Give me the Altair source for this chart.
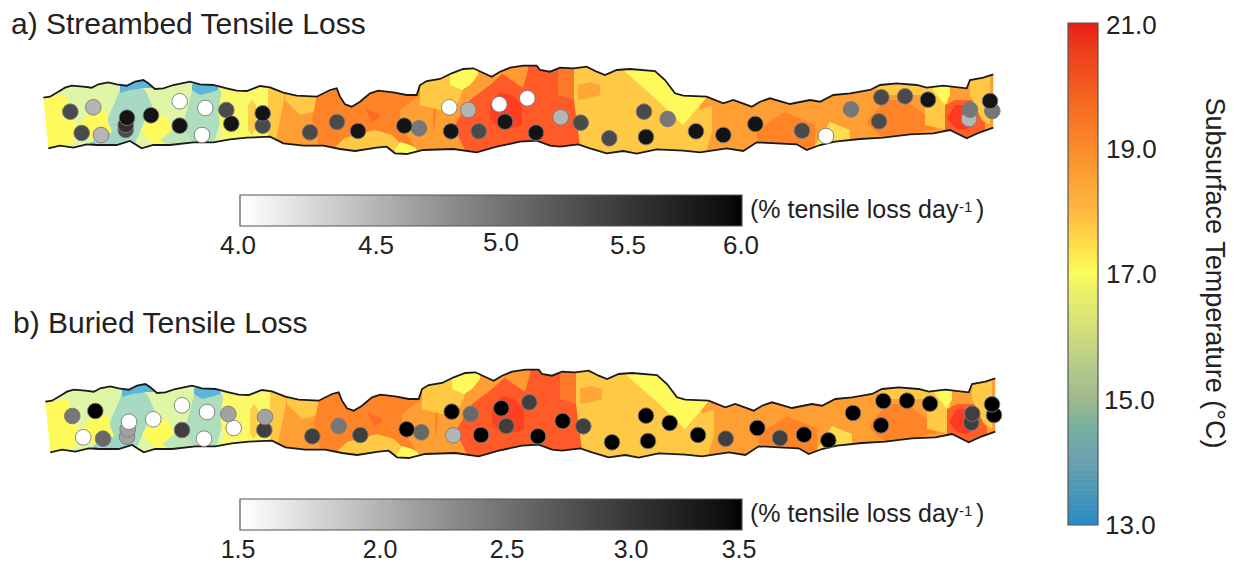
import altair as alt
import pandas as pd

FONT = "Liberation Sans"
INK = "#222222"

# river outline (panel a; panel b is the same reach drawn lower and slightly right)
top_x = [43.3,50,58.3,65,71.7,83.3,91.7,98.3,108.3,116.7,126.7,135,143.3,148.3,155,163.3,173.3,190,200,213.3,226.7,236.7,246.7,260,270,283.3,296.7,316.7,330,336.7,340,345,351.7,360,370,378.3,393.3,406.7,416.7,420,426.7,440,451.7,463.3,473.3,491.7,500,510,523.3,536.7,540,550,560,573.3,586.7,596.7,605,616.7,630,655,665,675,683.3,706.7,723.3,733.3,751.7,760,770,790,810,820,833.3,850,870,880,896.7,916.7,926.7,943.3,966.7,970,983.3,993.3]
top_y = [97.7,96.7,91.7,87.7,85.7,86.7,87.7,84.3,82.3,84.3,85.7,81.7,80,83.3,89,88.3,85,81.7,84.3,85,88.3,90.7,91,86,87.3,92.7,95.7,96.7,90,88.3,96.7,104.3,106.7,101.7,93.3,90.7,92.3,95,95,85,81,79,73.3,69,68.3,76.7,71.7,67.7,65.7,65.7,70,71.7,67.7,68.3,66.7,71.7,75,70,69,71,80,93.3,95.7,96.7,103.3,100,106.7,101.7,98.3,104,100,101.7,95,93.3,90,85,83.3,85,87.7,85.7,88.3,80,77.7,74.3]
bot_x = [48.3,60,73.3,86.7,96.7,116.7,130,141.7,153.3,170,193.3,213.3,230,246.7,270,283.3,303.3,323.3,340,355,376.7,386.7,395,406.7,423.3,453.3,476.7,496.7,520,536.7,550,560,578.3,590,606.7,623.3,636.7,656.7,683.3,700,726.7,743.3,756.7,776.7,796.7,806.7,820,835,860,883.3,910,933.3,950,966.7,980,993.3]
bot_y = [148.3,145.7,147.7,144.3,145,145,141,148.3,145,145,142.3,142.3,139.3,137.7,136.7,143.3,145.7,145.7,149,151,147.7,146.7,153.3,154,150,149,152.3,146.7,141.7,140.7,145.7,146.7,144.3,148.3,153.3,151,153.7,149.3,150.7,152.3,148.3,151,142.3,143.3,144.3,150,145,141.7,139,137.7,134.3,133.3,130,138.3,132.3,127.7]

# temperature patches: (temperature, [(x, upper y, lower y), ...]) painted in order
zones = [
 (18.5,[(40,55,170),(1000,55,170)]),
 (16.3,[(40,55,170),(228,55,170)]),
 (17.0,[(43,98,150),(65,95,150),(76,118,138)]),
 (17.0,[(80,125,125),(97,103,148),(112,120,146),(118,128,135)]),
 (15.6,[(108,118,122),(120,90,150),(133,85,148),(145,90,120),(152,105,112)]),
 (15.5,[(84,147,147),(100,136,150),(125,128,150)]),
 (14.5,[(86,146,150),(94,142,150),(99,148,150)]),
 (14.5,[(120,82,93),(130,70,90),(145,70,88),(152,85,88)]),
 (17.0,[(140,130,130),(150,118,142),(165,115,145),(172,128,140)]),
 (15.9,[(160,140,140),(175,128,150),(190,120,150)]),
 (15.7,[(183,125,125),(195,80,150),(215,80,140),(222,95,115)]),
 (14.5,[(192,85,90),(200,76,95),(212,76,92),(218,87,90)]),
 (16.9,[(218,112,112),(228,55,170),(268,55,170),(285,55,55)]),
 (16.9,[(218,140,140),(232,120,170),(270,120,170)]),
 (17.9,[(248,105,130),(252,100,135),(256,105,128)]),
 (18.0,[(268,88,145),(275,88,145),(284,92,100)]),
 (18.0,[(285,90,100),(300,90,115),(320,90,110)]),
 (19.0,[(312,120,120),(325,55,170),(425,55,170),(436,100,120)]),
 (19.5,[(365,108,108),(372,112,122),(380,114,118)]),
 (18.0,[(332,150,150),(345,138,160),(375,130,160),(392,135,160),(402,145,160)]),
 (17.0,[(393,153,153),(400,142,160),(410,145,160),(420,150,156)]),
 (18.5,[(400,110,125),(420,95,155),(433,95,155)]),
 (18.0,[(420,60,105),(440,60,110),(455,60,110),(465,60,85)]),
 (17.0,[(450,75,85),(462,60,90),(470,60,85),(478,70,75)]),
 (19.8,[(455,125,130),(470,100,160),(490,85,160),(523,55,170),(575,55,170),(582,100,170)]),
 (20.4,[(490,103,118),(500,92,130),(512,95,128),(522,105,125)]),
 (18.6,[(500,60,72),(523,55,88),(528,55,70)]),
 (19.2,[(558,55,95),(575,55,100),(578,55,105)]),
 (18.0,[(574,55,100),(583,55,170),(690,55,170),(700,110,170),(712,105,132)]),
 (18.4,[(578,85,100),(590,82,98),(600,85,95)]),
 (17.0,[(623,55,70),(655,55,98),(683,75,125),(707,85,97)]),
 (19.0,[(757,130,140),(785,112,148),(815,125,155)]),
 (17.6,[(815,145,150),(830,122,150),(850,130,140)]),
 (19.0,[(868,120,125),(885,100,140),(905,100,140),(925,115,130),(935,128,130)]),
 (18.0,[(877,75,95),(900,75,95),(940,75,95)]),
 (18.0,[(925,80,125),(948,80,130)]),
 (17.0,[(933,80,90),(945,80,105),(950,85,95)]),
 (19.7,[(945,105,130),(955,100,145),(972,100,145),(985,115,130)]),
 (20.5,[(947,118,118),(955,105,128),(965,105,130),(972,115,125)]),
 (18.0,[(970,70,95),(982,70,120),(990,70,125)]),
]
map_temps = [14.5,15.5,16.3,17.0,18.0,18.5,19.0,19.8,20.5]
map_colors = ["#5cb6dc","#9ed6c6","#dff6a6","#fffa5c","#ffc845","#ff9e32","#ff8428","#ff5a28","#ff3a20"]

# sample sites
a_x = [70.3,93.3,81.7,101,125.7,125.7,127,151,179.7,205.3,179.7,202,226.3,231.3,262.7,262.7,310,337,358,419,404.3,449.3,468.3,499.3,451,478.7,505,527.3,560.7,580.7,536,644,667.7,609.3,646,696,723.3,755.3,802,826,851,881.3,879,905,928,969,970,992.3,990]
a_y = [111.7,107.3,133,135,130,125,117.7,115.3,101.3,108,125.7,135,110,123.7,125.7,113.3,132.3,122,131,128.3,125.7,107.3,110,104.3,131.3,131.3,121.7,98.3,117.3,122.7,132.7,111.7,119,138.3,137,131.3,135,124,130.7,136,109.3,97.3,121.3,96.3,99.7,119,109.7,111,101]
a_v = [5.37,4.53,5.37,4.53,5.37,5.6,5.87,5.87,4.0,4.0,5.87,4.0,5.37,5.87,5.37,5.87,5.37,5.37,5.87,5.0,5.87,4.0,4.53,4.0,5.87,5.37,5.87,4.0,4.53,5.37,5.87,5.37,5.0,5.37,5.87,5.87,5.87,5.87,5.37,4.0,5.0,5.37,5.37,5.37,5.87,4.53,5.0,5.0,5.87]
b_x = [72.3,95.3,83.3,103,127,127.7,129,153.3,182,207,182,204,233.7,228.3,264.3,265,312.3,338.7,360.3,421.3,406.7,451.7,470.7,501.3,453.3,481,506.3,529.3,562.7,583.3,538,646,669.7,612,648,698,725.7,757.3,780,804,828.3,853,883.3,881,907,930,971.3,972.3,994,992]
b_y = [416,411,437.3,438.7,436.7,429.3,421.7,419.3,405.3,412,430,438.7,428,414,430,417,436.3,426,435,432.3,429.3,411.7,414,408.3,435.3,435,426,402.3,421,426.3,436.3,415.7,423,442.3,441,435,438.7,428,438,434.7,440.3,413,401,425.3,400.7,403.7,422.7,413.7,415,404.3]
b_v = [2.5,3.5,1.5,2.62,2.17,2.17,1.5,1.5,1.5,1.5,2.97,1.5,1.5,2.17,2.97,2.17,2.97,2.5,2.97,2.62,3.5,3.5,2.62,3.5,2.03,3.5,2.97,2.97,3.5,2.97,3.5,3.5,3.5,3.5,3.5,3.5,2.97,3.5,2.97,3.5,3.5,3.5,3.5,3.5,3.5,3.5,2.97,2.97,3.5,3.5]

# text
titles = ["a) Streambed Tensile Loss","b) Buried Tensile Loss"]
title_x = [11,13]
title_y = [34,333]
tick_a = ["4.0","4.5","5.0","5.5","6.0"]
tick_a_x = [238,376,501,628,741]
tick_a_y = [254,254,251,254,254]
tick_b = ["1.5","2.0","2.5","3.0","3.5"]
tick_b_x = [238,380,507,631,739]
tick_b_y = [558,558,558,558,558]
tick_t = ["21.0","19.0","17.0","15.0","13.0"]
tick_t_x = [1106,1106,1106,1104,1105]
tick_t_y = [34,158,283,409,534]
unit = "(% tensile loss day"

temp_stops = [13,14,15,16,17,18,19,20,21]
temp_colors = ["#2b8cc4","#6da0ae","#a2b98f","#cfdc7c","#fbfb5c","#fdb63f","#fa8a2c","#f2571f","#e8161a"]

X = alt.X("x:Q", scale=alt.Scale(domain=[8,1230], nice=False, zero=False), axis=None)
Y = alt.Y("y:Q", scale=alt.Scale(domain=[564,8], nice=False, zero=False), axis=None)
X2 = alt.X2("x2:Q")
Y2 = alt.Y2("y2:Q")

layers = []
for dx, dy in [(0,0),(2,304)]:
    rows = []
    for i,(t,pts) in enumerate(zones):
        for (x,u,l) in pts:
            rows.append(dict(zone=i,temp=t,x=x+dx,y=u+dy,y2=l+dy))
    layers.append(alt.Chart(pd.DataFrame(rows)).mark_area(interpolate="linear").encode(
        x=X,y=Y,y2=Y2,detail="zone:N",
        color=alt.Color("temp:Q",legend=None,scale=alt.Scale(domain=map_temps,range=map_colors,interpolate="rgb"))))
    tx=[v+dx for v in top_x]; ty=[v+dy for v in top_y]
    bx=[v+dx for v in bot_x]; by=[v+dy for v in bot_y]
    # white surround that trims the patches to the channel
    mtx=[25+dx]+tx+[1012+dx]; mty=[ty[0]]+ty+[ty[-1]]
    mbx=[25+dx]+bx+[1012+dx]; mby=[by[0]]+by+[by[-1]]
    layers.append(alt.Chart(pd.DataFrame(dict(x=mtx,y=mty,y2=[45+dy]*len(mtx)))).mark_area(color="white").encode(x=X,y=Y,y2=Y2))
    layers.append(alt.Chart(pd.DataFrame(dict(x=mbx,y=mby,y2=[175+dy]*len(mbx)))).mark_area(color="white").encode(x=X,y=Y,y2=Y2))
    left=pd.DataFrame(dict(y=[top_y[0]-1+dy,bot_y[0]+1+dy],x=[top_x[0]+dx,bot_x[0]+dx],x2=[25+dx]*2))
    right=pd.DataFrame(dict(y=[top_y[-1]-1+dy,bot_y[-1]+1+dy],x=[top_x[-1]+dx,bot_x[-1]+dx],x2=[1012+dx]*2))
    for d in (left,right):
        layers.append(alt.Chart(d).mark_area(color="white",orient="horizontal").encode(x=X,y=Y,x2=X2))
    for xs,ys in [(tx,ty),(bx,by)]:
        layers.append(alt.Chart(pd.DataFrame(dict(x=xs,y=ys))).mark_line(color="#1a1a1a",strokeWidth=1.8).encode(x=X,y=Y))

def gray_points(xs,ys,vs,lo,hi):
    d=pd.DataFrame(dict(x=xs,y=ys,v=vs,o=range(len(xs))))
    return alt.Chart(d).mark_point(filled=True,size=245,stroke="#7a7a7a",strokeWidth=0.9,opacity=1,shape="circle").encode(
        x=X,y=Y,order="o:Q",
        fill=alt.Fill("v:Q",legend=None,scale=alt.Scale(domain=[lo,hi],range=["#ffffff","#000000"])))
layers.append(gray_points(a_x,a_y,a_v,4,6))
layers.append(gray_points(b_x,b_y,b_v,1.5,3.5))

def gray_bar(lo,hi,top):
    n=100
    vs=[lo+(hi-lo)*i/n for i in range(n)]
    d=pd.DataFrame(dict(v=vs))
    d["x"]=241+(d.v-lo)/(hi-lo)*501
    d["x2"]=(d.x+5.6).clip(upper=742)
    d["y"]=top; d["y2"]=top+31
    cells=alt.Chart(d).mark_rect().encode(x=X,x2=X2,y=Y,y2=Y2,
        fill=alt.Fill("v:Q",legend=None,scale=alt.Scale(domain=[lo,hi],range=["#ffffff","#000000"])))
    frame=alt.Chart(pd.DataFrame(dict(x=[240],x2=[742],y=[top],y2=[top+31]))).mark_rect(fill=None,stroke="#555555",strokeWidth=1.2).encode(x=X,x2=X2,y=Y,y2=Y2)
    return [cells,frame]
layers+=gray_bar(4,6,195)
layers+=gray_bar(1.5,3.5,499)

tv=[13+8*i/100 for i in range(100)]
td=pd.DataFrame(dict(t=tv))
td["y"]=525-(td.t-13)/8*502
td["y2"]=(td.y-5.6).clip(lower=23)
td["x"]=1068; td["x2"]=1098
layers.append(alt.Chart(td).mark_rect().encode(x=X,x2=X2,y=Y,y2=Y2,
    fill=alt.Fill("t:Q",legend=None,scale=alt.Scale(domain=temp_stops,range=temp_colors))))
layers.append(alt.Chart(pd.DataFrame(dict(x=[1068],x2=[1098],y=[23],y2=[525]))).mark_rect(fill=None,stroke="#555555",strokeWidth=1.2).encode(x=X,x2=X2,y=Y,y2=Y2))

def text(labels,xs,ys,size,align="left",angle=None):
    d=pd.DataFrame(dict(label=labels,x=xs,y=ys))
    kw=dict(font=FONT,fontSize=size,align=align,baseline="alphabetic",color=INK)
    if angle is not None: kw["angle"]=angle
    return alt.Chart(d).mark_text(**kw).encode(x=X,y=Y,text="label:N")

layers.append(text(titles,title_x,title_y,30))
layers.append(text(tick_a,tick_a_x,tick_a_y,26,"center"))
layers.append(text(tick_b,tick_b_x,tick_b_y,25,"center"))
layers.append(text(tick_t,tick_t_x,tick_t_y,26))
layers.append(text([unit,unit],[750,750],[218,522],25))
layers.append(text(["-1","-1"],[959,959],[212,516],15))
layers.append(text([")",")"],[976,976],[218,522],25))
layers.append(text(["Subsurface  Temperature  (°C)"],[1206],[273],27,"center",90))

chart = alt.layer(*layers).resolve_scale(color="independent",fill="independent").properties(
    width=1222,height=556,padding=0,autosize=alt.AutoSizeParams(type="none")
).configure_view(stroke=None)
chart.save("out.html", embed_options={"renderer":"svg","actions":False})
